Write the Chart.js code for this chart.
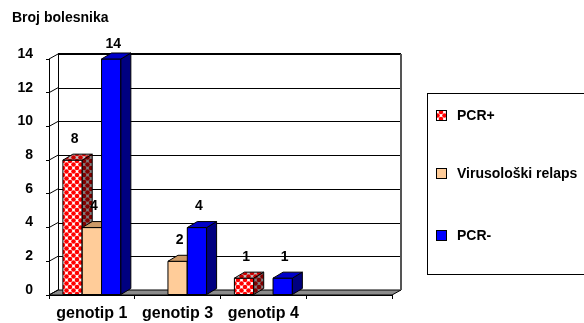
<!DOCTYPE html>
<html>
<head>
<meta charset="utf-8">
<script src="https://cdn.jsdelivr.net/npm/chart.js@4"></script>
<style>
  html, body { margin: 0; padding: 0; background: #fff; }
  canvas { display: block; }
</style>
</head>
<body>
<canvas id="c" width="584" height="323"></canvas>
<script>
// Patients per genotype and treatment outcome
const categories = ['genotip 1', 'genotip 3', 'genotip 4', ''];
const seriesNames = ['PCR+', 'Virusološki relaps', 'PCR-'];
const pcrPlus = [8, 0, 1, null];
const relapse = [4, 2, 0, null];
const pcrMinus = [14, 4, 1, null];
const yTicks = [0, 2, 4, 6, 8, 10, 12, 14];
const titleText = 'Broj bolesnika';

const FONT = '"Liberation Sans", Arial, sans-serif';
const WALL_DX = 9, WALL_DY = 5;   // depth of the back wall
const BAR_DX = 10, BAR_DY = 6;    // depth of each column

const canvas = document.getElementById('c');
const ctx = canvas.getContext('2d');

// red/white diamond lattice fill used for the PCR+ columns
function makePattern(bg, dot) {
  const s = 7;
  const t = document.createElement('canvas');
  t.width = s; t.height = s;
  const g = t.getContext('2d');
  g.fillStyle = bg; g.fillRect(0, 0, s, s);
  g.fillStyle = dot;
  [[0, 0], [s, 0], [0, s], [s, s], [s / 2, s / 2]].forEach(([x, y]) => {
    g.beginPath(); g.arc(x, y, 2.3, 0, Math.PI * 2); g.fill();
  });
  return ctx.createPattern(t, 'repeat');
}
const patFront = makePattern('#ffffff', '#ff0000');
const patSide = makePattern('#808080', '#800000');
const patTop = makePattern('#c0c0c0', '#cc0000');

const faces = [
  { front: patFront, side: patSide, top: patTop },
  { front: '#FFCC99', side: '#99704d', top: '#CC9966' },
  { front: '#0000FF', side: '#000080', top: '#0000C8' }
];

function crisp(v) { return Math.round(v) + 0.5; }

const depth3d = {
  id: 'depth3d',
  beforeDatasetsDraw(chart) {
    const { ctx, chartArea: a, scales: { y } } = chart;
    ctx.save();
    // floor
    const fb = a.bottom;
    ctx.beginPath();
    ctx.moveTo(a.left, fb);
    ctx.lineTo(a.right, fb);
    ctx.lineTo(a.right + WALL_DX, fb - WALL_DY);
    ctx.lineTo(a.left + WALL_DX, fb - WALL_DY);
    ctx.closePath();
    ctx.fillStyle = '#8c8c8c';
    ctx.fill();
    ctx.strokeStyle = '#000';
    ctx.lineWidth = 1;
    ctx.stroke();

    // back-wall gridlines and left-wall connectors
    const topBack = y.getPixelForValue(yTicks[yTicks.length - 1]) - WALL_DY;
    const floorBack = fb - WALL_DY;
    yTicks.forEach(v => {
      const py = y.getPixelForValue(v);
      ctx.beginPath();
      ctx.moveTo(a.left, py);
      ctx.lineTo(a.left + WALL_DX, py - WALL_DY);
      ctx.strokeStyle = '#000';
      ctx.lineWidth = 1;
      ctx.stroke();
      if (v === 0) return;
      const isTop = v === yTicks[yTicks.length - 1];
      const by = isTop ? Math.round(py - WALL_DY) : crisp(py - WALL_DY);
      ctx.beginPath();
      ctx.moveTo(a.left + WALL_DX, by);
      ctx.lineTo(a.right + WALL_DX, by);
      ctx.lineWidth = isTop ? 2 : 1;
      ctx.stroke();
    });
    // left wall back edge
    ctx.beginPath();
    ctx.moveTo(crisp(a.left + WALL_DX), topBack);
    ctx.lineTo(crisp(a.left + WALL_DX), floorBack);
    ctx.lineWidth = 1;
    ctx.strokeStyle = '#000';
    ctx.stroke();
    // right wall edge
    ctx.beginPath();
    ctx.moveTo(a.right + WALL_DX, topBack);
    ctx.lineTo(a.right + WALL_DX, floorBack);
    ctx.lineWidth = 2;
    ctx.strokeStyle = '#555';
    ctx.stroke();
    ctx.restore();
  },
  afterDatasetsDraw(chart) {
    const { ctx, chartArea: a } = chart;
    ctx.save();
    ctx.strokeStyle = '#000';
    ctx.lineWidth = 1;
    // columns painted series by series, left to right, so each one overlaps the previous
    chart.data.datasets.forEach((ds, i) => {
      const f = faces[i];
      chart.getDatasetMeta(i).data.forEach((el, j) => {
        const v = ds.data[j];
        if (!v) return;
        const { x, y, base, width } = el.getProps(['x', 'y', 'base', 'width'], true);
        const x1 = x - width / 2, x2 = x + width / 2;
        // front face
        ctx.beginPath();
        ctx.rect(x1, y, width, base - y);
        ctx.fillStyle = f.front;
        ctx.fill();
        ctx.stroke();
        // side face
        ctx.beginPath();
        ctx.moveTo(x2, y);
        ctx.lineTo(x2 + BAR_DX, y - BAR_DY);
        ctx.lineTo(x2 + BAR_DX, base - BAR_DY);
        ctx.lineTo(x2, base);
        ctx.closePath();
        ctx.fillStyle = f.side;
        ctx.fill();
        ctx.stroke();
        // top face
        ctx.beginPath();
        ctx.moveTo(x1, y);
        ctx.lineTo(x1 + BAR_DX, y - BAR_DY);
        ctx.lineTo(x2 + BAR_DX, y - BAR_DY);
        ctx.lineTo(x2, y);
        ctx.closePath();
        ctx.fillStyle = f.top;
        ctx.fill();
        ctx.stroke();
      });
    });

    // value labels
    ctx.fillStyle = '#000';
    ctx.font = 'bold 14px ' + FONT;
    ctx.textAlign = 'center';
    ctx.textBaseline = 'middle';
    chart.data.datasets.forEach((ds, i) => {
      chart.getDatasetMeta(i).data.forEach((el, j) => {
        const v = ds.data[j];
        if (!v) return;
        ctx.fillText(String(v), el.x + 2, Math.max(el.y - 21, a.top - 15));
      });
    });
    ctx.restore();
  },
  afterDraw(chart) {
    const { ctx } = chart;
    ctx.save();
    ctx.fillStyle = '#000';
    ctx.textBaseline = 'middle';
    ctx.textAlign = 'left';
    // axis title
    ctx.font = 'bold 14px ' + FONT;
    ctx.fillText(titleText, 12, 18);
    // legend
    ctx.strokeStyle = '#000';
    ctx.lineWidth = 1;
    ctx.strokeRect(427.5, 93.5, 170, 181);
    const rowY = [115, 173, 235];
    chart.data.datasets.forEach((ds, i) => {
      const cy = rowY[i];
      ctx.fillStyle = faces[i].front;
      ctx.fillRect(436, cy - 5, 11, 11);
      ctx.strokeRect(436.5, cy - 4.5, 10, 10);
      ctx.fillStyle = '#000';
      ctx.fillText(ds.label, 457, cy + 1);
    });
    ctx.restore();
  }
};

new Chart(ctx, {
  type: 'bar',
  data: {
    labels: categories,
    datasets: [
      { label: seriesNames[0], data: pcrPlus, backgroundColor: patFront },
      { label: seriesNames[1], data: relapse, backgroundColor: '#FFCC99' },
      { label: seriesNames[2], data: pcrMinus, backgroundColor: '#0000FF' }
    ]
  },
  options: {
    responsive: false,
    animation: false,
    devicePixelRatio: 1,
    events: [],
    layout: { padding: { left: 0, top: 59, right: 192, bottom: 0 } },
    plugins: { legend: { display: false }, tooltip: { enabled: false }, title: { display: false } },
    datasets: {
      bar: {
        categoryPercentage: 0.676,
        barPercentage: 1,
        borderColor: '#000',
        borderWidth: c => (c.raw ? 1 : 0)
      }
    },
    scales: {
      x: {
        grid: { offset: true, drawOnChartArea: false, drawTicks: true, tickLength: 4, color: '#000' },
        border: { display: true, color: '#000' },
        ticks: { color: '#000', font: { family: FONT, size: 16, weight: 'bold' }, padding: 5, maxRotation: 0, autoSkip: false },
        afterFit: s => { s.height = 28; }
      },
      y: {
        min: 0,
        max: 14,
        grid: { drawOnChartArea: false, tickLength: 3, color: '#000' },
        border: { display: true, color: '#000' },
        ticks: { color: '#000', font: { family: FONT, size: 14, weight: 'bold' }, padding: 13, labelOffset: -5 },
        afterBuildTicks: s => { s.ticks = yTicks.map(v => ({ value: v })); },
        afterFit: s => { s.width = 49; }
      }
    }
  },
  plugins: [depth3d]
});
</script>
</body>
</html>
